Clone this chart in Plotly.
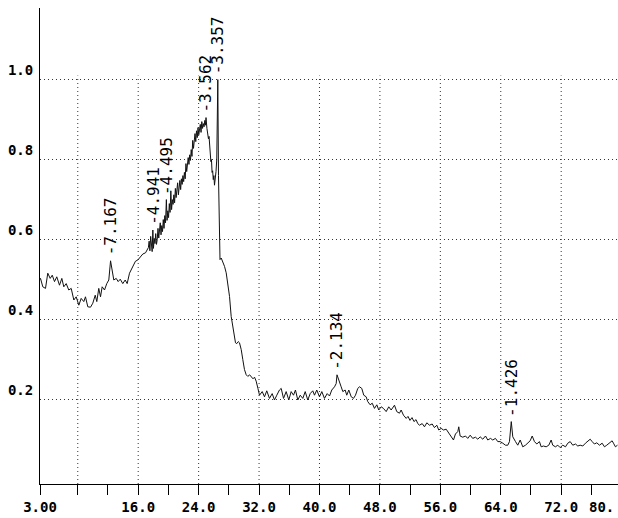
import numpy as np
import plotly.graph_objects as go

# XRD scan: 2-theta (deg) and normalised intensity
two_theta = [
    3.00, 3.07, 3.37, 3.73, 4.03, 4.35, 4.62, 4.92, 5.22, 5.58, 5.89, 6.15, 6.47, 6.81,
    7.13, 7.48, 7.79, 8.14, 8.45, 8.80, 9.02, 9.33, 9.69, 9.99, 10.31, 10.52, 10.78,
    11.01, 11.23, 11.54, 11.84, 12.11, 12.34, 12.56, 12.77, 13.09, 13.35, 13.62, 13.96,
    14.28, 14.54, 14.85, 15.21, 15.64, 15.95, 16.31, 16.61, 16.97, 17.27,
    17.35, 17.45, 17.55, 17.65, 17.75, 17.85, 17.94, 18.02, 18.12, 18.22, 18.32, 18.42,
    18.52, 18.62, 18.72, 18.82, 18.92, 19.02, 19.12, 19.22, 19.32, 19.42, 19.52, 19.62,
    19.73, 19.82, 19.92, 20.02, 20.12, 20.22, 20.32, 20.42, 20.52, 20.62, 20.72, 20.82,
    20.92, 21.02, 21.12, 21.22, 21.32, 21.42, 21.52, 21.62, 21.72, 21.82, 21.92, 22.02,
    22.12, 22.22, 22.32, 22.42, 22.52, 22.62, 22.72, 22.82, 22.92, 23.02, 23.12, 23.22,
    23.32, 23.42, 23.52, 23.62, 23.72, 23.82, 23.92, 24.02, 24.12, 24.22, 24.32, 24.42,
    24.52, 24.62, 24.72, 24.82, 24.90, 24.98,
    25.10, 25.20, 25.30, 25.38, 25.46, 25.54, 25.62, 25.70, 25.78, 25.86, 25.94, 26.02,
    26.10, 26.20, 26.30, 26.40, 26.54, 26.63, 26.72, 26.83,
    26.99, 27.20, 27.43, 27.65, 27.87, 28.09, 28.31, 28.52, 28.70, 28.88, 29.05, 29.25,
    29.41, 29.64, 29.85, 30.07, 30.30, 30.51, 30.75, 30.96, 31.20, 31.40, 31.62, 31.85,
    32.06, 32.42, 32.72, 33.02, 33.38, 33.74, 34.04, 34.35, 34.70, 34.93, 35.24, 35.59,
    35.94, 36.25, 36.56, 36.82, 37.13, 37.45, 37.79, 38.11, 38.45, 38.77, 39.11, 39.34,
    39.64, 40.00, 40.31, 40.66, 41.02, 41.33, 41.63, 41.99, 42.21, 42.32, 42.65, 42.87,
    43.09, 43.40, 43.61, 43.88, 44.20, 44.50, 44.77, 45.07, 45.30, 45.60, 45.86, 46.18,
    46.39, 46.71, 46.98, 47.28, 47.59, 47.85, 48.17, 48.47, 48.83, 49.17, 49.49, 49.93,
    50.23, 50.59, 50.81, 51.12, 51.48, 51.72, 51.98, 52.25, 52.51, 52.78, 53.01,
    53.24, 53.60, 53.90, 54.21, 54.56, 54.92, 55.22, 55.53, 55.79, 56.11, 56.42, 56.77,
    57.12, 57.43, 57.74, 58.00, 58.31, 58.44, 58.62, 58.97, 59.33, 59.63, 59.95, 60.29,
    60.65, 60.96, 61.27, 61.62, 61.98, 62.28, 62.64, 62.94, 63.30, 63.60, 63.92, 64.27,
    64.62, 64.93, 65.15, 65.39, 65.59, 65.95, 66.25, 66.57, 66.91, 67.27, 67.58, 67.89,
    68.16, 68.46, 68.77, 69.12, 69.35, 69.65, 70.01, 70.36, 70.67, 70.88, 71.24, 71.55,
    71.86, 72.21, 72.57, 72.87, 73.19, 73.53, 73.89, 74.20, 74.51, 74.86, 75.21, 75.52,
    75.84, 76.10, 76.40, 76.71, 77.07, 77.42, 77.73, 78.03, 78.39, 78.74, 78.92, 79.18,
    79.45,
]
intensity = [
    0.500, 0.503, 0.482, 0.478, 0.516, 0.503, 0.511, 0.495, 0.507, 0.486, 0.503, 0.482,
    0.490, 0.474, 0.478, 0.449, 0.457, 0.436, 0.453, 0.445, 0.457, 0.432, 0.431, 0.441,
    0.461, 0.445, 0.478, 0.457, 0.482, 0.474, 0.490, 0.499, 0.547, 0.516, 0.499, 0.503,
    0.495, 0.501, 0.490, 0.499, 0.490, 0.516, 0.528, 0.546, 0.549, 0.559, 0.564, 0.567,
    0.578,
    0.580, 0.596, 0.572, 0.608, 0.585, 0.570, 0.624, 0.578, 0.603, 0.590, 0.615, 0.588,
    0.600, 0.628, 0.604, 0.622, 0.642, 0.612, 0.635, 0.620, 0.650, 0.628, 0.660, 0.642,
    0.700, 0.648, 0.672, 0.655, 0.690, 0.668, 0.722, 0.675, 0.700, 0.688, 0.712, 0.692,
    0.728, 0.705, 0.718, 0.742, 0.712, 0.735, 0.748, 0.725, 0.752, 0.738, 0.760, 0.745,
    0.768, 0.752, 0.790, 0.770, 0.782, 0.805, 0.788, 0.812, 0.798, 0.825, 0.808, 0.848,
    0.828, 0.842, 0.865, 0.845, 0.872, 0.855, 0.880, 0.862, 0.872, 0.888, 0.868, 0.895,
    0.878, 0.890, 0.882, 0.898, 0.886, 0.905,
    0.878, 0.868, 0.852, 0.858, 0.830, 0.822, 0.795, 0.800, 0.768, 0.772, 0.750, 0.760,
    0.736, 0.748, 0.770, 0.800, 1.000, 0.760, 0.615, 0.550,
    0.554, 0.545, 0.533, 0.517, 0.488, 0.458, 0.408, 0.383, 0.362, 0.342, 0.340, 0.345,
    0.342, 0.325, 0.300, 0.275, 0.262, 0.258, 0.262, 0.258, 0.252, 0.256, 0.246, 0.228,
    0.211, 0.220, 0.207, 0.222, 0.203, 0.215, 0.199, 0.211, 0.224, 0.228, 0.203, 0.220,
    0.199, 0.220, 0.211, 0.224, 0.199, 0.211, 0.203, 0.220, 0.199, 0.215, 0.222, 0.211,
    0.224, 0.207, 0.220, 0.203, 0.215, 0.209, 0.224, 0.232, 0.240, 0.262, 0.240, 0.232,
    0.220, 0.224, 0.211, 0.224, 0.207, 0.203, 0.211, 0.228, 0.232, 0.228, 0.211, 0.207,
    0.195, 0.187, 0.191, 0.178, 0.187, 0.174, 0.182, 0.178, 0.170, 0.182, 0.174, 0.186,
    0.170, 0.166, 0.174, 0.161, 0.153, 0.158, 0.148, 0.155, 0.145, 0.150, 0.140,
    0.136, 0.140, 0.132, 0.142, 0.136, 0.139, 0.130, 0.136, 0.124, 0.128, 0.124, 0.126,
    0.116, 0.109, 0.099, 0.114, 0.120, 0.132, 0.109, 0.106, 0.109, 0.103, 0.111, 0.103,
    0.106, 0.101, 0.107, 0.101, 0.109, 0.099, 0.103, 0.099, 0.103, 0.095, 0.095, 0.091,
    0.086, 0.086, 0.095, 0.145, 0.107, 0.095, 0.086, 0.099, 0.082, 0.086, 0.091, 0.097,
    0.109, 0.095, 0.089, 0.095, 0.082, 0.084, 0.082, 0.086, 0.099, 0.086, 0.082, 0.086,
    0.080, 0.086, 0.082, 0.091, 0.095, 0.086, 0.089, 0.084, 0.086, 0.084, 0.091, 0.095,
    0.101, 0.095, 0.089, 0.092, 0.086, 0.091, 0.082, 0.086, 0.092, 0.097, 0.091, 0.082,
    0.086,
]

# Labelled reflections (d-spacing, angstrom)
peak_d = [7.167, 4.941, 4.495, 3.562, 3.357, 2.134, 1.426]
wavelength = 1.5406  # Cu K-alpha

# Axis ticks
x_tick_vals = [3, 8, 16, 24, 32, 40, 48, 56, 64, 72]
x_tick_text = ["3.00", "", "16.0", "24.0", "32.0", "40.0", "48.0", "56.0", "64.0", "72.0"]
x_grid_vals = [8, 16, 24, 32, 40, 48, 56, 64, 72]
x_minor_vals = [12, 20, 28, 36, 44, 52, 60, 68, 76]
x_end_label = "80."
y_tick_vals = [0.2, 0.4, 0.6, 0.8, 1.0]
y_tick_text = ["0.2", "0.4", "0.6", "0.8", "1.0"]

X_RANGE = [3.0, 79.52]
Y_RANGE = [-0.011, 1.179]
GRID_TOP = 1.01
DOT = "1px,3px"

tick_font = dict(family="DejaVu Sans Mono", size=14, color="black", weight="bold")
label_font = dict(family="DejaVu Sans Mono", size=16, color="black")

fig = go.Figure()
fig.add_trace(go.Scatter(
    x=two_theta, y=intensity, mode="lines",
    line=dict(color="#111111", width=1),
    hoverinfo="skip", showlegend=False,
))

# Peak labels: position from Bragg's law, height from the scan at that angle
tt = np.array(two_theta)
ii = np.array(intensity)
for d in peak_d:
    ang = 2 * np.degrees(np.arcsin(wavelength / (2 * d)))
    near = np.abs(tt - ang) < 0.15
    top = ii[near].max() if near.any() else ii[np.argmin(np.abs(tt - ang))]
    fig.add_annotation(
        x=ang, y=top, xref="x", yref="y",
        text="-" + f"{d:.3f}", textangle=-90,
        showarrow=False, xanchor="center", yanchor="bottom",
        yshift=3, font=label_font,
    )

# Vertical dotted gridlines stop just above the 1.0 level
for gx in x_grid_vals:
    fig.add_shape(
        type="line", xref="x", yref="y", x0=gx, x1=gx, y0=Y_RANGE[0], y1=GRID_TOP,
        line=dict(color="#333333", width=1, dash=DOT), layer="below",
    )

# Last axis label sits against the right edge
fig.add_annotation(
    x=1, y=0, xref="paper", yref="paper", text=x_end_label,
    showarrow=False, xanchor="right", yanchor="top", xshift=-2, yshift=-13,
    font=tick_font,
)

fig.update_layout(
    width=618, height=518,
    margin=dict(l=40, r=0, t=8, b=34),
    paper_bgcolor="white", plot_bgcolor="white",
    showlegend=False,
    xaxis=dict(
        range=X_RANGE, tickmode="array", tickvals=x_tick_vals, ticktext=x_tick_text,
        ticks="outside", ticklen=10, tickwidth=1, tickcolor="black",
        showgrid=False, zeroline=False,
        showline=True, linecolor="black", linewidth=1,
        tickfont=tick_font,
        minor=dict(tickmode="array", tickvals=x_minor_vals, ticks="outside",
                   ticklen=10, tickwidth=1, tickcolor="black", showgrid=False),
    ),
    yaxis=dict(
        range=Y_RANGE, tickmode="array", tickvals=y_tick_vals, ticktext=y_tick_text,
        ticks="", showgrid=True, gridcolor="#333333", gridwidth=1, griddash=DOT,
        zeroline=False, showline=True, linecolor="black", linewidth=1,
        tickfont=tick_font, ticklabelposition="outside top", ticklabelstandoff=3,
    ),
)

fig.write_html("out.html")
